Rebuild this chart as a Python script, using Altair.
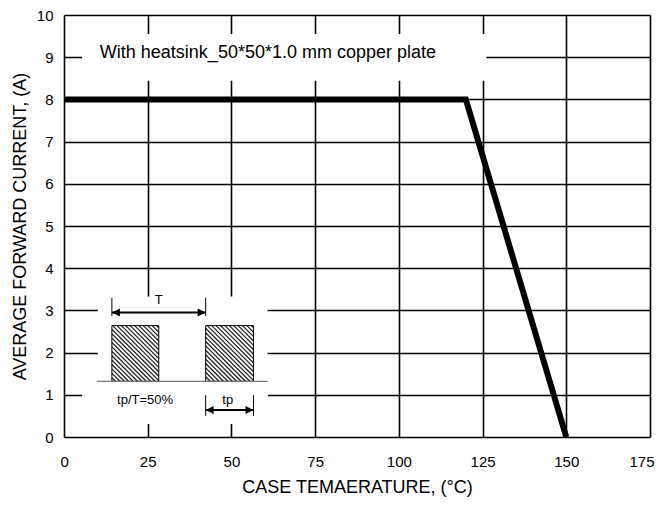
import altair as alt
import pandas as pd
import numpy as np

# ---------------- data ----------------
# derating curve
temp_c = [0, 120, 150]
current_a = [8, 8, 0]

x_ticks = [0, 25, 50, 75, 100, 125, 150, 175]
y_ticks = [0, 1, 2, 3, 4, 5, 6, 7, 8, 9, 10]
X_DOMAIN = [0, 175]
Y_DOMAIN = [0, 10]
W, H = 586, 422

note_text = ["With heatsink_50*50*1.0 mm copper plate"]
note_x = [10.7]
note_y = [9.1]

# white background boxes behind the note and the inset
mask_x = [5.4, 10.1, 5.4]
mask_x2 = [126.1, 60.8, 60.8]
mask_y = [8.44, 0.31, 0.31]
mask_y2 = [9.55, 3.33, 1.3]

# inset: pulse train
pulse_x = [14.3, 42.3]
pulse_x2 = [28.3, 56.6]
pulse_y = [1.32, 1.32]
pulse_y2 = [2.64, 2.64]

base_x = [9.8]
base_x2 = [60.8]
base_y = [1.32]

arrow_x = [14.3, 42.3]
arrow_x2 = [42.3, 56.6]
arrow_y = [2.95, 0.64]

bar_x = [14.3, 42.3, 42.3, 56.6]
bar_y = [2.87, 2.87, 0.5, 0.5]
bar_y2 = [3.3, 3.3, 0.99, 0.99]

label_text = ["T", "tp/T=50%", "tp"]
label_x = [28.3, 24.2, 48.9]
label_y = [3.24, 0.87, 0.87]

HATCH_STEP_PX = 4.4

# ---------------- helpers ----------------
px_x = W / (X_DOMAIN[1] - X_DOMAIN[0])
px_y = H / (Y_DOMAIN[1] - Y_DOMAIN[0])


def hatch(x1, x2, y1, y2):
    """diagonal '\\' hatch segments clipped to a rectangle (data units)"""
    wpx = (x2 - x1) * px_x
    hpx = (y2 - y1) * px_y
    segs = []
    c = -wpx + HATCH_STEP_PX / 2
    while c < hpx:
        sx = max(0.0, -c)
        ex = min(wpx, hpx - c)
        if ex > sx:
            segs.append({
                "x": x1 + sx / px_x, "y": y2 - (sx + c) / px_y,
                "x2": x1 + ex / px_x, "y2": y2 - (ex + c) / px_y,
            })
        c += HATCH_STEP_PX
    return segs


hatch_rows = []
for a, b, c_, d in zip(pulse_x, pulse_x2, pulse_y, pulse_y2):
    hatch_rows += hatch(a, b, c_, d)

df_line = pd.DataFrame({"x": temp_c, "y": current_a})
df_note = pd.DataFrame({"x": note_x, "y": note_y, "t": note_text})
df_mask = pd.DataFrame({"x": mask_x, "x2": mask_x2, "y": mask_y, "y2": mask_y2})
df_pulse = pd.DataFrame({"x": pulse_x, "x2": pulse_x2, "y": pulse_y, "y2": pulse_y2})
df_hatch = pd.DataFrame(hatch_rows)
df_base = pd.DataFrame({"x": base_x, "x2": base_x2, "y": base_y})
df_arrow = pd.DataFrame({"x": arrow_x, "x2": arrow_x2, "y": arrow_y})
df_bar = pd.DataFrame({"x": bar_x, "y": bar_y, "y2": bar_y2})
df_lab = pd.DataFrame({"x": label_x, "y": label_y, "t": label_text})
df_head_l = pd.DataFrame({"x": arrow_x, "y": arrow_y})
df_head_r = pd.DataFrame({"x": arrow_x2, "y": arrow_y})

FONT = "Liberation Sans"

xscale = alt.Scale(domain=X_DOMAIN, nice=False, zero=False)
yscale = alt.Scale(domain=Y_DOMAIN, nice=False, zero=False)
common_axis = dict(grid=True, gridColor="black", gridWidth=1.6, gridOpacity=1,
                   ticks=False, tickSize=0, domain=False,
                   labelFontSize=15, titleFontSize=18,
                   labelFont=FONT, titleFont=FONT, labelColor="black",
                   titleColor="black", titleFontWeight="normal", format="d")
xaxis = alt.Axis(values=x_ticks, title="CASE TEMAERATURE, (°C)",
                 labelPadding=17, titlePadding=9,
                 labelFlush=True, labelFlushOffset=4, **common_axis)
yaxis = alt.Axis(values=y_ticks, title="AVERAGE FORWARD CURRENT, (A)",
                 labelPadding=11, titlePadding=7, **common_axis)

X = alt.X("x:Q", scale=xscale, axis=xaxis)
Y = alt.Y("y:Q", scale=yscale, axis=yaxis)

masks = alt.Chart(df_mask).mark_rect(fill="white", strokeWidth=0).encode(
    x=X, x2="x2:Q", y=Y, y2="y2:Q")

hatch_layer = alt.Chart(df_hatch).mark_rule(color="#222", strokeWidth=1.3).encode(
    x=X, x2="x2:Q", y=Y, y2="y2:Q")

pulses = alt.Chart(df_pulse).mark_rect(fillOpacity=0, stroke="black", strokeWidth=1).encode(
    x=X, x2="x2:Q", y=Y, y2="y2:Q")

base = alt.Chart(df_base).mark_rule(color="#777", strokeWidth=1.3).encode(
    x=X, x2="x2:Q", y=Y)

arrows = alt.Chart(df_arrow).mark_rule(color="black", strokeWidth=1.8).encode(
    x=X, x2="x2:Q", y=Y)

bars = alt.Chart(df_bar).mark_rule(color="black", strokeWidth=1).encode(
    x=X, y=Y, y2="y2:Q")

head_l = alt.Chart(df_head_l).mark_point(
    shape="M0,0 L2,-1 L2,1 Z", size=64, filled=True, color="black", opacity=1
).encode(x=X, y=Y)
head_r = alt.Chart(df_head_r).mark_point(
    shape="M0,0 L-2,-1 L-2,1 Z", size=64, filled=True, color="black", opacity=1
).encode(x=X, y=Y)

labels = alt.Chart(df_lab).mark_text(font=FONT, fontSize=13, color="black",
                                     align="center", baseline="middle").encode(
    x=X, y=Y, text="t:N")

note = alt.Chart(df_note).mark_text(font=FONT, fontSize=18, color="black",
                                    align="left", baseline="middle").encode(
    x=X, y=Y, text="t:N")

curve = alt.Chart(df_line).mark_line(color="black", strokeWidth=6, clip=True,
                                     strokeJoin="miter").encode(x=X, y=Y)

chart = alt.layer(
    masks, hatch_layer, pulses, base, arrows, bars, head_l, head_r, labels, note, curve
).properties(
    width=W, height=H,
    autosize=alt.AutoSizeParams(type="none"),
    padding={"left": 56, "top": 7, "right": 5, "bottom": 60},
).configure_view(
    stroke="black", strokeWidth=3
).configure(background="white")

chart.save("out.html", embed_options={"renderer": "svg", "actions": False})
